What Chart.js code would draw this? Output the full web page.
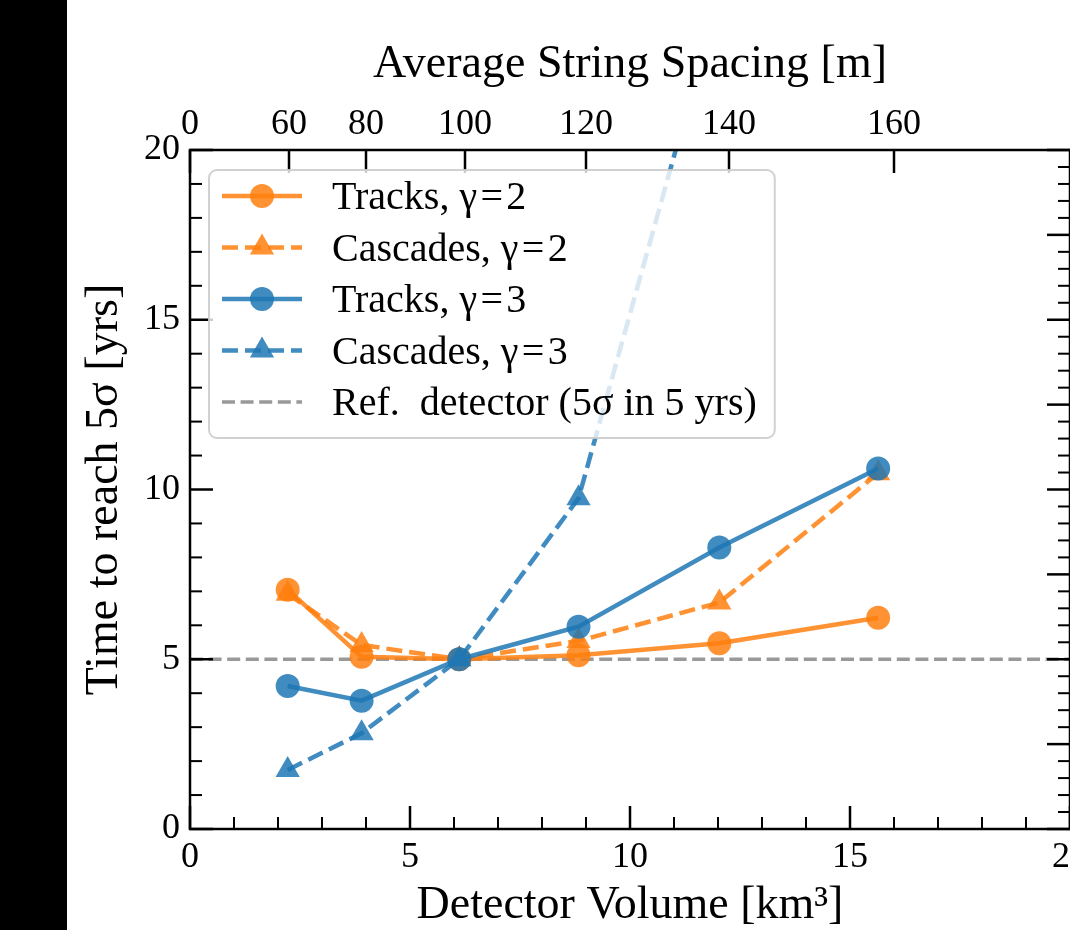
<!DOCTYPE html>
<html>
<head>
<meta charset="utf-8">
<script src="https://cdn.jsdelivr.net/npm/chart.js@4.4.0/dist/chart.umd.min.js"></script>
<style>
  html, body { margin: 0; padding: 0; background: #fff; overflow: hidden; width: 1070px; height: 930px; }
  #strip { position: absolute; left: 0; top: 0; width: 67px; height: 930px; background: #000; }
  #c { position: absolute; left: 0; top: 0; }
</style>
</head>
<body>
<div id="strip"></div>
<canvas id="c" width="1160" height="930"></canvas>
<script>
// detector volume [km^3] for each design
const volumes = [2.22, 3.90, 6.12, 8.83, 12.03, 15.64];
// time to reach 5 sigma [yrs]
const tracksG2 = [7.05, 5.07, 5.00, 5.12, 5.47, 6.22];
const cascadesG2 = [6.93, 5.42, 5.00, 5.54, 6.67, 10.48];
const tracksG3 = [4.21, 3.78, 5.00, 5.96, 8.29, 10.62];
const cascadesG3 = [1.74, 2.82, 5.00, 9.74, 24.6, null];
const refLevel = 5;

// top axis: string spacing labels at their volume positions
const topTickVolumes = [0, 2.25, 4, 6.25, 9, 12.25, 16];
const topTickLabels = ['0', '60', '80', '100', '120', '140', '160'];
const xLimits = [0, 20];
const yLimits = [0, 20];

const ORANGE = 'rgba(255,127,14,0.85)';
const BLUE = 'rgba(31,119,180,0.85)';
const GRAY = 'rgba(128,128,128,0.8)';
const FONT = "'Liberation Serif', 'Times New Roman', serif";

Chart.defaults.font.family = FONT;
Chart.defaults.color = '#000';

const pts = ys => volumes.map((v, i) => ({ x: v, y: ys[i] }));

// legend rows in the order shown in the box
const legendOrder = [0, 1, 2, 3, 4];

const frame = {
  id: 'frame',
  afterDatasetsDraw(chart) {
    const ctx = chart.ctx, a = chart.chartArea;
    const sx = chart.scales.x, sy = chart.scales.y, sy2 = chart.scales.y2, sx2 = chart.scales.x2;
    const MAJ = 23, MIN = 12;
    ctx.save();
    ctx.strokeStyle = '#000';
    const tick = (x1, y1, x2, y2, w) => {
      ctx.lineWidth = w;
      ctx.beginPath(); ctx.moveTo(x1, y1); ctx.lineTo(x2, y2); ctx.stroke();
    };
    // bottom + left: major every 5, minor every 1
    for (let v = xLimits[0]; v <= xLimits[1]; v++) {
      const p = sx.getPixelForValue(v), major = v % 5 === 0;
      tick(p, a.bottom, p, a.bottom - (major ? MAJ : MIN), major ? 2.5 : 2);
    }
    for (let v = yLimits[0]; v <= yLimits[1]; v++) {
      const p = sy.getPixelForValue(v), major = v % 5 === 0;
      tick(a.left, p, a.left + (major ? MAJ : MIN), p, major ? 2.5 : 2);
    }
    // right: major every 2.5, minor every 0.5
    for (let k = 0; k <= (yLimits[1] - yLimits[0]) * 2; k++) {
      const v = yLimits[0] + k / 2, p = sy2.getPixelForValue(v), major = k % 5 === 0;
      tick(a.right, p, a.right - (major ? MAJ : MIN), p, major ? 2.5 : 2);
    }
    // top: spacing ticks only
    topTickVolumes.forEach(v => {
      const p = sx2.getPixelForValue(v);
      tick(p, a.top, p, a.top + MAJ, 2.5);
    });
    ctx.lineWidth = 2.5;
    ctx.strokeRect(a.left, a.top, a.right - a.left, a.bottom - a.top);
    ctx.restore();
  }
};

const legendBox = {
  id: 'legendBox',
  afterDraw(chart) {
    const ctx = chart.ctx;
    const left = 209, top = 170, rowH = 51.5, firstRow = 196;
    const h0 = 222, h1 = 302, textX = 332;
    const items = legendOrder.map(i => chart.data.datasets[i]);
    ctx.save();
    ctx.font = '40px ' + FONT;
    const wMax = Math.max(...items.map(d => ctx.measureText(d.label).width));
    const width = textX - left + wMax + 18;
    const height = firstRow - top + rowH * (items.length - 1) + 36;
    ctx.beginPath();
    ctx.roundRect(left, top, width, height, 8);
    ctx.fillStyle = 'rgba(255,255,255,0.8)';
    ctx.fill();
    ctx.lineWidth = 2;
    ctx.strokeStyle = 'rgba(204,204,204,0.9)';
    ctx.stroke();
    items.forEach((d, i) => {
      const y = firstRow + i * rowH;
      ctx.strokeStyle = d.borderColor;
      ctx.lineWidth = d.borderWidth;
      ctx.setLineDash(d.borderDash || []);
      ctx.beginPath(); ctx.moveTo(h0, y); ctx.lineTo(h1, y); ctx.stroke();
      ctx.setLineDash([]);
      if (d.pointRadius > 0) {
        ctx.fillStyle = d.backgroundColor;
        Chart.helpers.drawPoint(ctx, { pointStyle: d.pointStyle, radius: d.pointRadius, borderWidth: 0, rotation: 0 }, (h0 + h1) / 2, y);
      }
      ctx.fillStyle = '#000';
      ctx.textBaseline = 'alphabetic';
      ctx.textAlign = 'left';
      ctx.fillText(d.label, textX, y + 13);
    });
    ctx.restore();
  }
};

const tickFont = { size: 36, lineHeight: 1 };
const titleFont = { size: 46, lineHeight: 1 };

new Chart(document.getElementById('c'), {
  type: 'line',
  data: {
    datasets: [
      { label: 'Tracks, γ\u200a=\u200a2', data: pts(tracksG2), borderColor: ORANGE, backgroundColor: ORANGE,
        borderWidth: 4.5, pointStyle: 'circle', pointRadius: 12, pointBorderWidth: 0, order: 4 },
      { label: 'Cascades, γ\u200a=\u200a2', data: pts(cascadesG2), borderColor: ORANGE, backgroundColor: ORANGE,
        borderWidth: 4.5, borderDash: [16, 7], pointStyle: 'triangle', pointRadius: 14, pointBorderWidth: 0, order: 3 },
      { label: 'Tracks, γ\u200a=\u200a3', data: pts(tracksG3), borderColor: BLUE, backgroundColor: BLUE,
        borderWidth: 4.5, pointStyle: 'circle', pointRadius: 12, pointBorderWidth: 0, order: 1 },
      { label: 'Cascades, γ\u200a=\u200a3', data: pts(cascadesG3), borderColor: BLUE, backgroundColor: BLUE,
        borderWidth: 4.5, borderDash: [16, 7], pointStyle: 'triangle', pointRadius: 14, pointBorderWidth: 0, order: 2 },
      { label: 'Ref.  detector (5σ in 5 yrs)', data: [{ x: xLimits[0], y: refLevel }, { x: xLimits[1], y: refLevel }],
        borderColor: GRAY, backgroundColor: GRAY, borderWidth: 3.5, borderDash: [13, 5.6], pointRadius: 0, order: 5 }
    ]
  },
  options: {
    responsive: false,
    animation: false,
    layout: { padding: 0 },
    elements: { line: { tension: 0 } },
    plugins: { legend: { display: false }, tooltip: { enabled: false } },
    scales: {
      x: {
        type: 'linear', position: 'bottom', min: xLimits[0], max: xLimits[1],
        ticks: { stepSize: 5, font: tickFont, padding: 11, maxRotation: 0, autoSkip: false },
        grid: { display: false, drawTicks: false }, border: { display: false },
        title: { display: true, text: 'Detector Volume [km³]', font: titleFont, padding: { top: 0, bottom: 1 } },
        afterFit: s => { s.height = 101; }
      },
      x2: {
        type: 'linear', position: 'top', display: true, min: xLimits[0], max: xLimits[1],
        afterBuildTicks: s => { s.ticks = topTickVolumes.map(v => ({ value: v })); },
        ticks: { font: tickFont, padding: 7, maxRotation: 0, autoSkip: false,
                 callback: (v, i) => topTickLabels[i] },
        grid: { display: false, drawTicks: false }, border: { display: false },
        title: { display: true, text: 'Average String Spacing [m]', font: titleFont, padding: { top: 42, bottom: 0 } },
        afterFit: s => { s.height = 150; }
      },
      y: {
        type: 'linear', position: 'left', min: yLimits[0], max: yLimits[1],
        ticks: { stepSize: 5, font: tickFont, padding: 10 },
        grid: { display: false, drawTicks: false }, border: { display: false },
        title: { display: true, text: 'Time to reach 5σ [yrs]', font: titleFont, padding: { top: 82, bottom: 0 } },
        afterFit: s => { s.width = 190; }
      },
      y2: {
        type: 'linear', position: 'right', display: true, min: yLimits[0], max: yLimits[1],
        ticks: { display: false },
        grid: { display: false, drawTicks: false }, border: { display: false },
        afterFit: s => { s.width = 90; }
      }
    }
  },
  plugins: [frame, legendBox]
});
</script>
</body>
</html>
